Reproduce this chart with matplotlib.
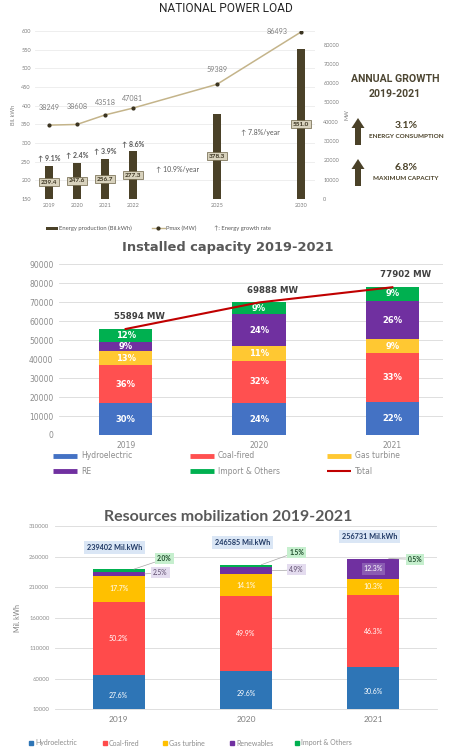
import numpy as np
import matplotlib.pyplot as plt
from matplotlib.patches import FancyArrow

plt.rcParams['font.family'] = ['Lato', 'DejaVu Sans']

# ---------------- data ----------------
# national power load
load_years = ['2019', '2020', '2021', '2022', '2025', '2030']
energy_bkwh = [239.4, 247.6, 256.7, 277.3, 378.3, 551.0]
pmax_mw = [38249, 38608, 43518, 47081, 59389, 86493]
yearly_growth = ['9.1%', '2.4%', '3.9%', '8.6%']
period_growth = ['10.9%/year', '7.8%/year']
growth_cons = '3.1%'
growth_cap = '6.8%'

# installed capacity (MW, shares in %)
cap_years = ['2019', '2020', '2021']
cap_total = [55894, 69888, 77902]
cap_hydro = [30, 24, 22]
cap_coal = [36, 32, 33]
cap_gas = [13, 11, 9]
cap_re = [9, 24, 26]
cap_import = [12, 9, 9]

# resources mobilization (Mil. kWh, shares in %)
mob_years = ['2019', '2020', '2021']
mob_total = [239402, 246585, 256731]
mob_hydro = [27.6, 29.6, 30.6]
mob_coal = [50.2, 49.9, 46.3]
mob_gas = [17.7, 14.1, 10.3]
mob_re = [2.5, 4.9, 12.3]
mob_import = [2.0, 1.5, 0.5]

# ---------------- layout helpers ----------------
W, H = 456, 747
fig = plt.figure(figsize=(W / 100, H / 100), dpi=100)


def rect(x0, y0, x1, y1):
    return [x0 / W, 1 - y1 / H, (x1 - x0) / W, (y1 - y0) / H]


ov = fig.add_axes([0, 0, 1, 1])
ov.set_xlim(0, W)
ov.set_ylim(H, 0)
ov.axis('off')

BROWN = '#4a4128'
DARK = '#3a3320'
GREY = '#7f7f7f'


def clean(ax):
    for s in ax.spines.values():
        s.set_visible(False)
    ax.tick_params(length=0)


# ================= chart 1: national power load =================
slots = [0, 1, 2, 3, 6, 9]  # category slots, blanks in between
ax1 = fig.add_axes(rect(35, 31, 315, 199))
ax1.bar(slots, energy_bkwh, width=0.32, color=BROWN, zorder=2)
ax1.set_xlim(-0.5, 9.5)
ax1.set_ylim(150, 600)
ax1.set_yticks(range(150, 601, 50))
ax1.set_xticks(slots, load_years)
ax1.grid(axis='y', color='#ebebeb', lw=0.6)
ax1.set_axisbelow(True)
clean(ax1)
ax1.tick_params(labelsize=4, labelcolor=GREY, pad=3)
ax1.set_ylabel('Bil. kWh', fontsize=4, color=GREY, labelpad=4)

for x, e in zip(slots, energy_bkwh):
    ax1.text(x, (150 + e) / 2, f'{e:.1f}', ha='center', va='center', fontsize=4.6,
             weight='bold', color=DARK, zorder=4,
             bbox=dict(boxstyle='square,pad=0.25', fc='#d8d2bd', ec='#6b6245', lw=0.5))
for x, e, g in zip(slots, energy_bkwh, yearly_growth):
    ax1.text(x, e + 22, '↑ ' + g, ha='center', va='center', fontsize=5,
             weight='bold', color='#595959')
ax1.text(4.6, 228, '↑ ' + period_growth[0], ha='center', va='center', fontsize=5,
         color='#595959')
ax1.text(7.55, 329, '↑ ' + period_growth[1], ha='center', va='center', fontsize=5,
         color='#595959')

ax1b = ax1.twinx()
ax1b.set_ylim(0, 87000)
ax1b.set_yticks(range(0, 80001, 10000))
clean(ax1b)
ax1b.tick_params(labelsize=4, labelcolor=GREY, pad=6)
ax1b.set_ylabel('MW', fontsize=4, color=GREY, labelpad=4)
ax1b.plot(slots, pmax_mw, color='#c4b48a', lw=1.1, marker='o', ms=2,
          mfc=DARK, mec=DARK, zorder=3)
offs = [(0, 13), (0, 13), (0, 9), (0, 7), (0, 11), (-17, 0)]
for x, p, o in zip(slots, pmax_mw, offs):
    ax1b.annotate(f'{p}', (x, p), xytext=o, textcoords='offset points',
                  ha='center', va='center', fontsize=5.2, color=GREY)

ov.text(226, 9, 'NATIONAL POWER LOAD', ha='center', va='center', fontsize=8.6,
        color='#262626', family=['Roboto', 'DejaVu Sans'])

# right panel
ov.text(395, 79, 'ANNUAL GROWTH', ha='center', va='center', fontsize=7.6,
        weight='bold', color='#4d4632', family=['Roboto', 'DejaVu Sans'])
ov.text(395, 94, '2019-2021', ha='center', va='center', fontsize=7.6,
        weight='bold', color='#4d4632', family=['Roboto', 'DejaVu Sans'])
for ytop, val, lab in [(118, growth_cons, 'ENERGY CONSUMPTION'),
                       (159, growth_cap, 'MAXIMUM CAPACITY')]:
    ov.add_patch(FancyArrow(358, ytop + 27, 0, -27, width=6, head_width=13,
                            head_length=10, length_includes_head=True,
                            color=BROWN, lw=0))
    ov.text(406, ytop + 8, val, ha='center', va='center', fontsize=7.5,
            weight='bold', color=BROWN)
    ov.text(406, ytop + 19, lab, ha='center', va='center', fontsize=4.6,
            weight='bold', color=BROWN)

# legend of chart 1
ov.add_patch(plt.Rectangle((46, 226.5), 12, 3, color=BROWN, lw=0))
ov.text(59, 228, 'Energy production (Bil.kWh)', va='center', fontsize=4.2, color='#595959')
ov.plot([152, 165], [228, 228], color='#c4b48a', lw=1)
ov.plot([158.5], [228], 'o', ms=2, color=DARK)
ov.text(166, 228, 'Pmax (MW)', va='center', fontsize=4.2, color='#595959')
ov.text(214, 228, '↑: Energy growth rate', va='center', fontsize=4.2, color='#595959')

# ================= chart 2: installed capacity =================
cap_cols = ['#4472c4', '#ff5050', '#ffc832', '#7030a0', '#00b050']
cap_names = ['Hydroelectric', 'Coal-fired', 'Gas turbine', 'RE', 'Import & Others']
cap_shares = np.array([cap_hydro, cap_coal, cap_gas, cap_re, cap_import], dtype=float)
cap_vals = cap_shares / cap_shares.sum(axis=0) * np.array(cap_total)

ax2 = fig.add_axes(rect(59, 264.3, 443, 435))
x2 = np.arange(len(cap_years))
bottom = np.zeros(len(cap_years))
for vals, shares, col in zip(cap_vals, cap_shares, cap_cols):
    ax2.bar(x2, vals, 0.4, bottom=bottom, color=col, zorder=2)
    for xi, b, v, s in zip(x2, bottom, vals, shares):
        ax2.text(xi, b + v / 2, f'{s:.0f}%', ha='center', va='center',
                 fontsize=6, weight='bold', color='white', family='DejaVu Sans', zorder=3)
    bottom += vals
ax2.plot(x2, cap_total, color='#c00000', lw=1.5, zorder=4)
for xi, t in zip(x2, cap_total):
    ax2.text(xi + 0.1, t + 6500, f'{t} MW', ha='center', va='center', fontsize=6.2,
             weight='bold', color='#404040', family='DejaVu Sans')
ax2.set_xlim(-0.5, 2.38)
ax2.set_ylim(0, 90000)
ax2.set_yticks(range(0, 90001, 10000))
ax2.set_xticks(x2, cap_years)
ax2.grid(axis='y', color='#d9d9d9', lw=0.6)
ax2.set_axisbelow(True)
clean(ax2)
ax2.tick_params(labelsize=5.5, labelcolor='#8c8c8c', pad=4)
for lab in ax2.get_xticklabels() + ax2.get_yticklabels():
    lab.set_family('DejaVu Sans')

ov.text(228, 248, 'Installed capacity 2019-2021', ha='center', va='center',
        fontsize=9.4, weight='bold', color='#595959', family='DejaVu Sans')

leg_items = list(zip(cap_names, cap_cols)) + [('Total', '#c00000')]
for k, (name, col) in enumerate(leg_items):
    lx = [53, 190, 327][k % 3]
    ly = [456, 471][k // 3]
    ov.plot([lx, lx + 24], [ly, ly], color=col, lw=1.5 if name == 'Total' else 3.5,
            solid_capstyle='butt')
    ov.text(lx + 28, ly, name, va='center', fontsize=5.5, color='#8c8c8c',
            family='DejaVu Sans')

# ================= chart 3: resources mobilization =================
mob_cols = ['#2e75b6', '#ff4b4b', '#ffc000', '#7030a0', '#00b050']
mob_names = ['Hydroelectric', 'Coal-fired', 'Gas turbine', 'Renewables', 'Import & Others']
mob_shares = np.array([mob_hydro, mob_coal, mob_gas, mob_re, mob_import])
mob_vals = mob_shares / mob_shares.sum(axis=0) * np.array(mob_total)

ax3 = fig.add_axes(rect(55, 526, 437, 709.3))
x3 = np.arange(len(mob_years))
bw = 0.41
bottom = np.zeros(len(mob_years))
tops = []
for k, (vals, shares, col) in enumerate(zip(mob_vals, mob_shares, mob_cols)):
    ax3.bar(x3, vals, bw, bottom=bottom, color=col, zorder=2)
    tops.append(bottom + vals)
    for xi, b, v, s in zip(x3, bottom, vals, shares):
        if k < 3 or (k == 3 and s >= 10):
            box = None
            if k == 3:
                box = dict(boxstyle='square,pad=0.3', fc='#8a5bb3', ec='none')
            ax3.text(xi, b + v / 2, f'{s:.1f}%', ha='center', va='center', fontsize=5,
                     color='white', zorder=3, bbox=box)
    bottom += vals

# small shares annotated outside the bars
re_pos = [(0.27, 233600), (0.34, 238000)]
imp_pos = [(0.30, 256000), (0.34, 267400), (0.27, 255500)]
for i in x3:
    dx, yt = imp_pos[i]
    ax3.annotate(f'{mob_import[i]:.1f}%', (i + 0.12, tops[4][i]), xytext=(i + dx, yt),
                 ha='left', va='center', fontsize=4.8, weight='bold', color='#1e4d2b',
                 bbox=dict(boxstyle='square,pad=0.3', fc='#c6efce', ec='none'),
                 arrowprops=dict(arrowstyle='-', color='#a6a6a6', lw=0.5,
                                 shrinkA=0, shrinkB=0))
    if mob_re[i] < 10:
        dx, yt = re_pos[i]
        ax3.annotate(f'{mob_re[i]:.1f}%', (i + bw / 2, (tops[2][i] + tops[3][i]) / 2),
                     xytext=(i + dx, yt), ha='left', va='center', fontsize=4.8,
                     color='#5b4a6b',
                     bbox=dict(boxstyle='square,pad=0.3', fc='#e4dcef', ec='none'),
                     arrowprops=dict(arrowstyle='-', color='#a6a6a6', lw=0.5,
                                     shrinkA=0, shrinkB=0))
    ax3.text(i - 0.03, mob_total[i] + 36000, f'{mob_total[i]} Mil.kWh', ha='center',
             va='center', fontsize=5.2, weight='bold', color='#1f3864',
             bbox=dict(boxstyle='square,pad=0.4', fc='#dae6f5', ec='none'))

ax3.set_xlim(-0.5, 2.5)
ax3.set_ylim(10000, 310000)
ax3.set_yticks(range(10000, 310001, 50000))
ax3.set_xticks(x3, mob_years)
ax3.grid(axis='y', color='#d9d9d9', lw=0.6)
ax3.set_axisbelow(True)
clean(ax3)
ax3.spines['bottom'].set_visible(True)
ax3.spines['bottom'].set_color('#d9d9d9')
ax3.spines['bottom'].set_linewidth(0.6)
ax3.tick_params(axis='y', labelsize=4.2, labelcolor='#8c8c8c', pad=4)
ax3.tick_params(axis='x', labelsize=6, labelcolor='#7f7f7f', pad=5)
ax3.set_ylabel('Mil. kWh', fontsize=5, color='#7f7f7f', labelpad=6)

ov.text(228, 517, 'Resources mobilization 2019-2021', ha='center', va='center',
        fontsize=11.5, weight='bold', color='#595959')

leg_x = [31, 105, 165, 232, 297]
for lx, name, col in zip(leg_x, mob_names, mob_cols):
    ov.plot([lx], [743], 's', ms=2.5, color=col)
    ov.text(lx + 4, 743, name, va='center', fontsize=5, color='#8c8c8c')

fig.savefig('out.png', dpi=100)
